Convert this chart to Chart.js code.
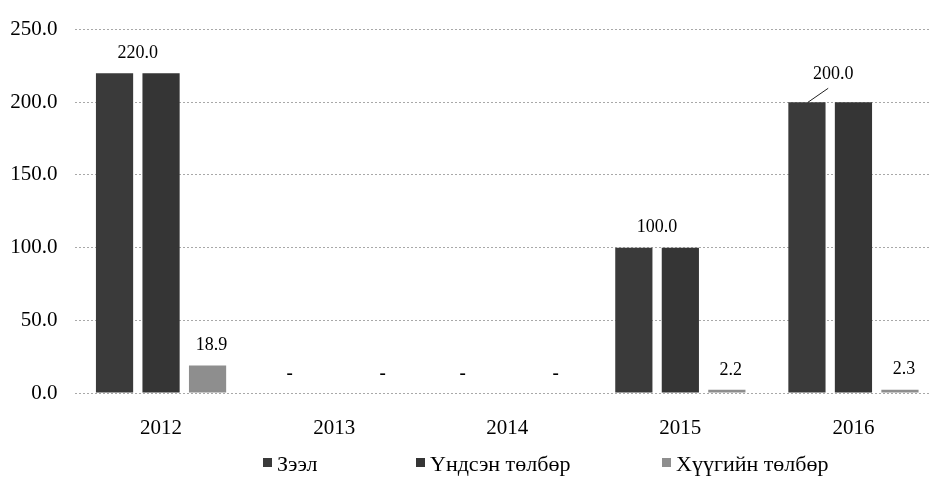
<!DOCTYPE html>
<html>
<head>
<meta charset="utf-8">
<script src="https://cdn.jsdelivr.net/npm/chart.js@4.4.1/dist/chart.umd.min.js"></script>
<style>
  html, body { margin: 0; padding: 0; background: #fff; overflow: hidden; }
  #wrap { position: absolute; left: 0; top: 0; width: 945px; height: 477px; }
  .legend-item {
    position: absolute; top: 452px; height: 24px;
    font-family: "Liberation Serif", "Times New Roman", serif; font-size: 22px; color: #000;
    display: flex; align-items: center; white-space: nowrap;
  }
  .legend-item i { display: inline-block; width: 9px; height: 9px; margin-right: 5px; margin-top: -4px; }
</style>
</head>
<body>
<div id="wrap"><canvas id="chart"></canvas></div>
<div id="legend"></div>
<script>
// chart values
const years = ['2012', '2013', '2014', '2015', '2016'];
const loan = [220, 0, 0, 100, 200];
const principal = [220, 0, 0, 100, 200];
const interest = [18.9, 0, 0, 2.2, 2.3];
const seriesNames = ['Зээл', 'Үндсэн төлбөр', 'Хүүгийн төлбөр'];
const yTicks = [0, 50, 100, 150, 200, 250];

const colors = ['#3a3a3a', '#353535', '#8e8e8e'];
const serif = '"Liberation Serif", "Times New Roman", serif';

// value labels: one label for the loan/principal pair, one for interest
const valueLabels = {
  id: 'valueLabels',
  afterDatasetsDraw(chart) {
    const c = chart.ctx;
    const m0 = chart.getDatasetMeta(0).data;
    const m1 = chart.getDatasetMeta(1).data;
    const m2 = chart.getDatasetMeta(2).data;
    const dash = (x, y) => {
      c.font = 'bold 19px ' + serif;
      c.fillText('-', x, y);
      c.font = '18px ' + serif;
    };
    c.save();
    c.fillStyle = '#000';
    c.textAlign = 'center';
    c.textBaseline = 'middle';
    c.font = '18px ' + serif;
    years.forEach((y, i) => {
      if (loan[i] === 0) {
        dash(m0[i].x + 2, m0[i].y - 19);
      } else if (i === years.length - 1) {
        // last pair label sits higher with a small leader line
        const lx = (m0[i].x + m1[i].x) / 2 + 3;
        const ly = m0[i].y - 28;
        c.fillText(loan[i].toFixed(1), lx, ly);
        c.strokeStyle = '#222';
        c.lineWidth = 1;
        c.beginPath();
        c.moveTo(m0[i].x + 1, m0[i].y);
        c.lineTo(lx - 5, ly + 14);
        c.stroke();
      } else {
        c.fillText(loan[i].toFixed(1), (m0[i].x + m1[i].x) / 2, m0[i].y - 20);
      }
      if (interest[i] === 0) {
        dash(m2[i].x + 2, m2[i].y - 19);
      } else {
        c.fillText(interest[i].toFixed(1), m2[i].x + 4, m2[i].y - 20);
      }
    });
    c.restore();
  },
};

const ctx = document.getElementById('chart').getContext('2d');
const chart = new Chart(ctx, {
  type: 'bar',
  data: {
    labels: years,
    datasets: [loan, principal, interest].map((d, k) => ({
      label: seriesNames[k],
      data: d,
      backgroundColor: colors[k],
      borderWidth: 0,
      categoryPercentage: 0.806,
      barPercentage: 0.8,
    })),
  },
  options: {
    responsive: true,
    maintainAspectRatio: false,
    animation: false,
    layout: { padding: { top: 20, right: 5, left: 0, bottom: 0 } },
    plugins: {
      legend: { display: false },
      tooltip: { enabled: false },
    },
    scales: {
      x: {
        grid: { display: false },
        border: { display: false },
        ticks: { color: '#000', padding: 15, font: { family: serif, size: 21 } },
        afterFit: (s) => { s.height = 84; },
      },
      y: {
        min: 0,
        max: 250,
        afterBuildTicks: (s) => { s.ticks = yTicks.map((v) => ({ value: v })); },
        grid: { color: '#a8a8a8', lineWidth: 1, drawTicks: false },
        border: { display: false, dash: [2, 2] },
        ticks: {
          color: '#000',
          padding: 17,
          font: { family: serif, size: 21 },
          callback: (v) => Number(v).toFixed(1),
        },
        afterFit: (s) => { s.width = 74.5; },
      },
    },
  },
  plugins: [valueLabels],
});

// legend drawn as html text
const legendLeft = [263, 416, 662];
const legend = document.getElementById('legend');
seriesNames.forEach((name, k) => {
  const item = document.createElement('div');
  item.className = 'legend-item';
  item.style.left = legendLeft[k] + 'px';
  item.innerHTML = '<i style="background:' + colors[k] + '"></i>' + name;
  legend.appendChild(item);
});
</script>
</body>
</html>
